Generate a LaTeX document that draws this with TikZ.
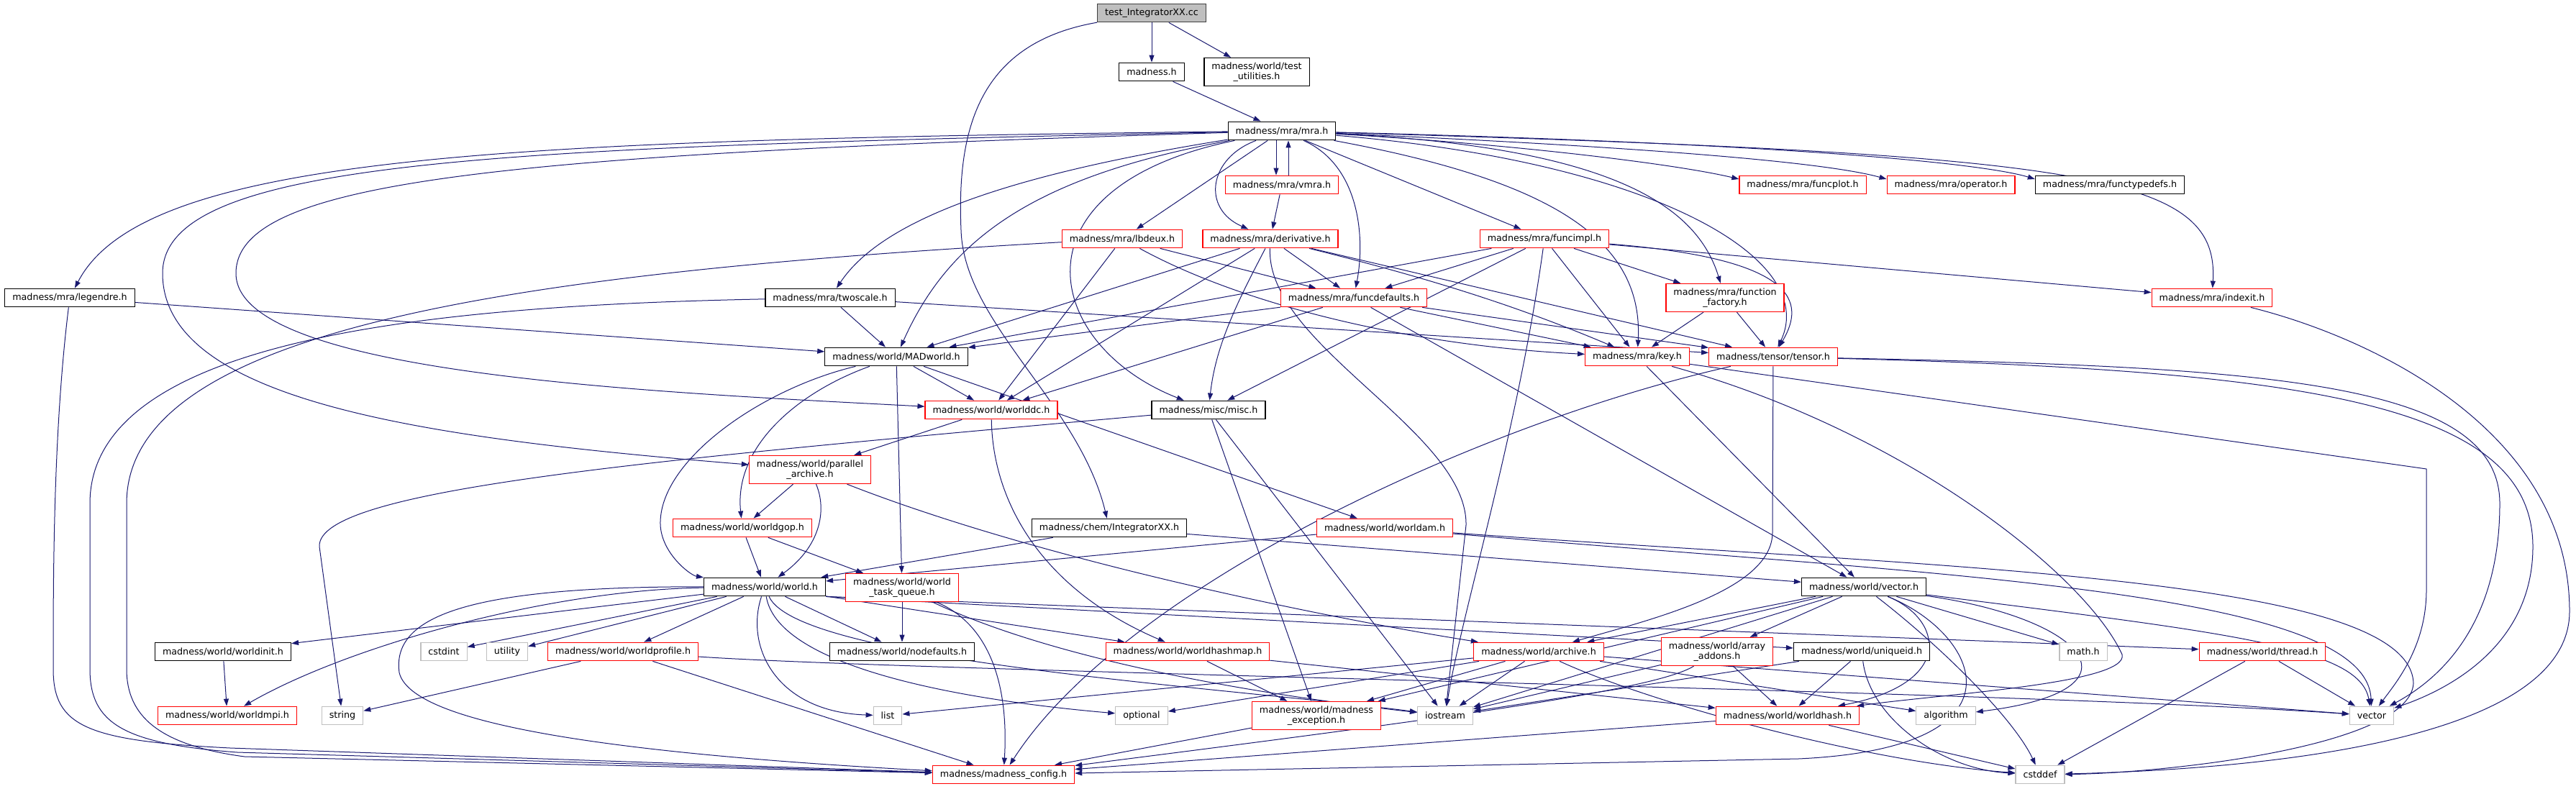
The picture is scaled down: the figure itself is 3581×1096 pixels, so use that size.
\documentclass[tikz,border=0pt]{standalone}
\usepackage{fontspec}
\setmainfont{DejaVu Sans}
\usepackage{tikz}
\usetikzlibrary{arrows.meta,positioning,backgrounds}
\definecolor{edgeblue}{HTML}{191970}
\definecolor{sysgray}{HTML}{BFBFBF}

\begin{document}
\begin{tikzpicture}[x=1pt,y=-1pt,
  every node/.style={font=\fontsize{12.7}{14.5}\selectfont, draw, line width=1.2pt, fill=white, align=center,
    inner xsep=10.5pt, inner ysep=6pt, minimum height=25.6pt},
  hdr/.style={draw=black},
  trunc/.style={draw=red},
  sys/.style={draw=sysgray},
  root/.style={draw=black!75, fill=sysgray},
  dep/.style={draw=edgeblue, line width=1pt, -{Triangle[length=10pt,width=7pt]}}]
  \useasboundingbox (0,0) rectangle (3581,1096);
  % top rows
  \node[root] (test) at (1601,18) {test\_IntegratorXX.cc};
  \node[hdr] (madness) at (1601,100) {madness.h};
  \node[hdr] (testutil) at (1747,100) {madness/world/test\\\_utilities.h};
  \node[hdr] (mra) at (1782,182) {madness/mra/mra.h};
  \node[trunc] (vmra) at (1782,257) {madness/mra/vmra.h};
  \node[trunc] (funcplot) at (2506,257) {madness/mra/funcplot.h};
  \node[trunc] (operator) at (2712,257) {madness/mra/operator.h};
  \node[hdr] (functypedefs) at (2933,257) {madness/mra/functypedefs.h};
  \node[trunc] (lbdeux) at (1560,332) {madness/mra/lbdeux.h};
  \node[trunc] (derivative) at (1766,332) {madness/mra/derivative.h};
  \node[trunc] (funcimpl) at (2147,332) {madness/mra/funcimpl.h};
  \node[hdr] (legendre) at (97,414) {madness/mra/legendre.h};
  \node[hdr] (twoscale) at (1154,414) {madness/mra/twoscale.h};
  \node[trunc] (funcdefaults) at (1882,414) {madness/mra/funcdefaults.h};
  \node[trunc] (factory) at (2398,414) {madness/mra/function\\\_factory.h};
  \node[trunc] (indexit) at (3075,414) {madness/mra/indexit.h};
  \node[hdr] (MADworld) at (1246,496) {madness/world/MADworld.h};
  \node[trunc] (key) at (2276,496) {madness/mra/key.h};
  \node[trunc] (tensor) at (2465,496) {madness/tensor/tensor.h};
  \node[trunc] (worlddc) at (1378,570) {madness/world/worlddc.h};
  \node[hdr] (misc) at (1680,570) {madness/misc/misc.h};
  \node[trunc] (parallel) at (1126,653) {madness/world/parallel\\\_archive.h};
  \node[trunc] (worldgop) at (1032,734) {madness/world/worldgop.h};
  \node[hdr] (integratorh) at (1542,734) {madness/chem/IntegratorXX.h};
  \node[trunc] (worldam) at (1925,734) {madness/world/worldam.h};
  \node[hdr] (world) at (1063,816) {madness/world/world.h};
  \node[trunc] (taskqueue) at (1254,817) {madness/world/world\\\_task\_queue.h};
  \node[hdr] (vectorh) at (2591,816) {madness/world/vector.h};
  % lower rows
  \node[hdr] (worldinit) at (310,906) {madness/world/worldinit.h};
  \node[sys] (cstdint) at (617,906) {cstdint};
  \node[sys] (utility) at (705,906) {utility};
  \node[trunc] (worldprofile) at (866,906) {madness/world/worldprofile.h};
  \node[hdr] (nodefaults) at (1254,906) {madness/world/nodefaults.h};
  \node[trunc] (worldhashmap) at (1651,906) {madness/world/worldhashmap.h};
  \node[trunc] (archive) at (2139,906) {madness/world/archive.h};
  \node[trunc] (arrayaddons) at (2387,906) {madness/world/array\\\_addons.h};
  \node[hdr] (uniqueid) at (2588,906) {madness/world/uniqueid.h};
  \node[sys] (mathh) at (2896,906) {math.h};
  \node[trunc] (thread) at (3145,906) {madness/world/thread.h};
  \node[trunc] (worldmpi) at (316,995) {madness/world/worldmpi.h};
  \node[sys] (string) at (476,995) {string};
  \node[sys] (list) at (1234,995) {list};
  \node[sys] (optional) at (1587,995) {optional};
  \node[trunc] (exception) at (1830,995) {madness/world/madness\\\_exception.h};
  \node[sys] (iostream) at (2009,995) {iostream};
  \node[trunc] (worldhash) at (2485,995) {madness/world/worldhash.h};
  \node[sys] (algorithm) at (2705,995) {algorithm};
  \node[sys] (vector) at (3297,995) {vector};
  \node[trunc] (config) at (1395,1077) {madness/madness\_config.h};
  \node[sys] (cstddef) at (2836,1077) {cstddef};

  \begin{scope}[on background layer]
  % test file and madness.h
  \draw[dep] (test) -- (madness);
  \draw[dep] (test) -- (testutil);
  \draw[dep] (test) .. controls (1360,60) and (1330,180) .. (1336,320) .. controls (1340,450) and (1500,560) .. (integratorh);
  \draw[dep] (madness) -- (mra);
  % mra.h
  \draw[dep] (mra) .. controls (700,195) and (200,215) .. (legendre);
  \draw[dep] (mra) .. controls (700,205) and (226,220) .. (226,380) .. controls (226,560) and (600,610) .. (parallel);
  \draw[dep] (mra) .. controls (700,215) and (328,250) .. (328,380) .. controls (328,520) and (900,545) .. (worlddc);
  \draw[dep] (mra) .. controls (1420,240) and (1230,300) .. (twoscale);
  \draw[dep] (mra) .. controls (1440,245) and (1320,330) .. (MADworld);
  \draw[dep] (mra) .. controls (1400,260) and (1450,480) .. (misc);
  \draw[dep] ([xshift=-8pt]mra.south) -- ([xshift=-8pt]vmra.north);
  \draw[dep] ([xshift=9pt]vmra.north) -- ([xshift=9pt]mra.south);
  \draw[dep] (mra) -- (lbdeux);
  \draw[dep] (mra) .. controls (1680,220) and (1670,290) .. (derivative);
  \draw[dep] (mra) .. controls (1890,230) and (1898,330) .. (funcdefaults);
  \draw[dep] (mra) -- (funcimpl);
  \draw[dep] (mra) .. controls (2150,250) and (2285,330) .. (key);
  \draw[dep] (mra) .. controls (2250,205) and (2360,290) .. (factory);
  \draw[dep] (mra) .. controls (2300,225) and (2530,360) .. (tensor);
  \draw[dep] (mra) .. controls (2100,200) and (2330,228) .. ([yshift=8pt]funcplot.west);
  \draw[dep] (mra) .. controls (2300,205) and (2540,226) .. ([yshift=8pt]operator.west);
  \draw[dep] (mra) .. controls (2500,200) and (2760,228) .. ([yshift=8pt]functypedefs.west);
  \draw[dep] (mra) .. controls (2900,215) and (3085,240) .. (indexit);
  \draw[dep] (vmra) -- (derivative);
  % legendre, twoscale, lbdeux
  \draw[dep] (legendre) -- (MADworld);
  \draw[dep] (legendre) .. controls (74,600) and (74,800) .. (74,930) .. controls (74,1010) and (120,1030) .. (320,1040) -- (config);
  \draw[dep] (twoscale) .. controls (600,425) and (125,470) .. (125,700) -- (125,930) .. controls (125,1005) and (170,1034) .. (330,1046) -- (config);
  \draw[dep] (lbdeux) .. controls (700,380) and (176,460) .. (176,700) -- (176,930) .. controls (176,995) and (220,1036) .. (340,1052) -- (config);
  \draw[dep] (twoscale) -- (MADworld);
  \draw[dep] (twoscale) -- (tensor);
  \draw[dep] (lbdeux) -- (worlddc);
  \draw[dep] (lbdeux) -- (funcdefaults);
  \draw[dep] (lbdeux) .. controls (1720,420) and (1950,480) .. (key);
  % derivative.h
  \draw[dep] (derivative) -- (MADworld);
  \draw[dep] (derivative) -- (worlddc);
  \draw[dep] (derivative) .. controls (1720,420) and (1690,480) .. (misc);
  \draw[dep] (derivative) -- (funcdefaults);
  \draw[dep] (derivative) .. controls (2000,390) and (2120,430) .. (key);
  \draw[dep] (derivative) -- (tensor);
  \draw[dep] (derivative) .. controls (1760,480) and (2040,600) .. (2038,730) -- (iostream);
  % funcimpl.h
  \draw[dep] (funcimpl) -- (MADworld);
  \draw[dep] (funcimpl) -- (funcdefaults);
  \draw[dep] (funcimpl) -- (misc);
  \draw[dep] (funcimpl) .. controls (2110,600) and (2030,860) .. (iostream);
  \draw[dep] (funcimpl) -- (key);
  \draw[dep] (funcimpl) -- (factory);
  \draw[dep] (funcimpl) .. controls (2500,360) and (2510,420) .. (tensor);
  \draw[dep] (funcimpl) -- (indexit);
  % funcdefaults.h, function_factory.h
  \draw[dep] (funcdefaults) -- (MADworld);
  \draw[dep] (funcdefaults) -- (worlddc);
  \draw[dep] (funcdefaults) -- (key);
  \draw[dep] (funcdefaults) -- (tensor);
  \draw[dep] (funcdefaults) -- (vectorh);
  \draw[dep] (factory) -- (key);
  \draw[dep] (factory) -- (tensor);
  % key.h, tensor.h, indexit.h
  \draw[dep] (key) -- (vectorh);
  \draw[dep] (key) -- (3373,652) -- (3373,820) .. controls (3373,900) and (3330,950) .. (vector);
  \draw[dep] (key) .. controls (2650,600) and (2900,800) .. (2950,910) .. controls (2960,950) and (2700,965) .. (worldhash);
  \draw[dep] (tensor) -- (2464,740) .. controls (2464,820) and (2300,860) .. (archive);
  \draw[dep] (tensor) .. controls (2050,590) and (1560,820) .. (config);
  \draw[dep] (tensor) .. controls (3150,510) and (3475,530) .. (3475,700) .. controls (3475,880) and (3380,950) .. (vector);
  \draw[dep] (tensor) .. controls (3200,515) and (3521,560) .. (3521,760) .. controls (3521,900) and (3400,960) .. (vector);
  \draw[dep] (indexit) .. controls (3300,470) and (3572,600) .. (3572,850) .. controls (3572,1040) and (3100,1070) .. (cstddef);
  % MADworld.h, worlddc.h, misc.h
  \draw[dep] (MADworld) -- (worlddc);
  \draw[dep] (MADworld) -- (taskqueue);
  \draw[dep] (MADworld) -- (worldam);
  \draw[dep] (MADworld) .. controls (1110,545) and (1020,620) .. (worldgop);
  \draw[dep] (MADworld) .. controls (1060,540) and (915,640) .. (918,730) .. controls (920,770) and (960,800) .. (world);
  \draw[dep] (worlddc) -- (parallel);
  \draw[dep] (worlddc) .. controls (1380,700) and (1450,820) .. (worldhashmap);
  \draw[dep] (misc) .. controls (900,640) and (440,680) .. (444,760) -- (string);
  \draw[dep] (misc) -- (exception);
  \draw[dep] (misc) -- (iostream);
  % parallel_archive.h, worldgop.h
  \draw[dep] (parallel) -- (worldgop);
  \draw[dep] (parallel) .. controls (1150,710) and (1140,760) .. (world);
  \draw[dep] (parallel) .. controls (1450,780) and (1850,860) .. (archive);
  \draw[dep] (worldgop) -- (world);
  \draw[dep] (worldgop) -- (taskqueue);
  % IntegratorXX.h, worldam.h, world_task_queue.h
  \draw[dep] (integratorh) -- (world);
  \draw[dep] (integratorh) -- (vectorh);
  \draw[dep] (worldam) -- (world);
  \draw[dep] (worldam) .. controls (2700,800) and (3290,820) .. (vector);
  \draw[dep] (worldam) .. controls (2700,790) and (3350,800) .. (3355,950) .. controls (3350,1040) and (3000,1075) .. (cstddef);
  \draw[dep] (taskqueue) -- (nodefaults);
  \draw[dep] (taskqueue) .. controls (1380,870) and (1402,960) .. (config);
  \draw[dep] (taskqueue) .. controls (1450,910) and (1700,960) .. (iostream);
  % world.h
  \draw[dep] (world) -- (worldinit);
  \draw[dep] (world) -- (cstdint);
  \draw[dep] (world) -- (utility);
  \draw[dep] (world) -- (worldprofile);
  \draw[dep] (world) .. controls (760,820) and (480,900) .. (worldmpi);
  \draw[dep] (world) .. controls (640,815) and (545,860) .. (555,935) .. controls (570,1000) and (800,1045) .. (config);
  \draw[dep] (world) .. controls (1035,900) and (1080,990) .. (list);
  \draw[dep] (world) .. controls (1080,920) and (1300,970) .. (optional);
  \draw[dep] (world) .. controls (1110,920) and (1700,955) .. (iostream);
  \draw[dep] (world) -- (nodefaults);
  \draw[dep] (world) -- (worldhashmap);
  \draw[dep] (world.south east) -- (uniqueid);
  \draw[dep] (world.south east) -- (thread);
  % worldprofile.h, worldinit.h, worldhashmap.h
  \draw[dep] (worldprofile) -- (string);
  \draw[dep] (worldprofile) -- (config);
  \draw[dep] (worldprofile) .. controls (1300,935) and (2800,960) .. (vector);
  \draw[dep] (worldinit) -- (worldmpi);
  \draw[dep] (worldhashmap) -- (exception);
  \draw[dep] (worldhashmap) -- (worldhash);
  % archive.h, array_addons.h, uniqueid.h
  \draw[dep] (archive) -- (exception);
  \draw[dep] (archive) -- (iostream);
  \draw[dep] (archive) -- (list);
  \draw[dep] (archive) -- (optional);
  \draw[dep] (archive) -- (algorithm);
  \draw[dep] (archive) -- (vector);
  \draw[dep] (archive) .. controls (2300,980) and (2600,1060) .. (cstddef);
  \draw[dep] (arrayaddons) -- (worldhash);
  \draw[dep] (arrayaddons) -- (iostream);
  \draw[dep] (arrayaddons) .. controls (2300,960) and (2000,1000) .. (config);
  \draw[dep] (uniqueid) -- (worldhash);
  \draw[dep] (uniqueid) -- (iostream);
  \draw[dep] (uniqueid) .. controls (2600,1000) and (2700,1070) .. (cstddef);
  % vector.h
  \draw[dep] (vectorh) -- (archive);
  \draw[dep] (vectorh) -- (arrayaddons);
  \draw[dep] (vectorh) -- (mathh);
  \draw[dep] (vectorh) -- (exception);
  \draw[dep] (vectorh) -- (iostream);
  \draw[dep] (vectorh) .. controls (2700,860) and (2720,950) .. (worldhash);
  \draw[dep] (vectorh) .. controls (2900,860) and (2990,960) .. (algorithm);
  \draw[dep] (vectorh) .. controls (2700,900) and (2800,1000) .. (cstddef);
  \draw[dep] (vectorh) .. controls (3100,880) and (3280,900) .. (vector);
  \draw[dep] (vectorh) .. controls (2750,880) and (2830,1040) .. (2500,1055) -- (config);
  % worldhash.h, thread.h, madness_exception.h
  \draw[dep] (worldhash) -- (config);
  \draw[dep] (worldhash) -- (cstddef);
  \draw[dep] (thread) -- (vector);
  \draw[dep] (thread) -- (cstddef);
  \draw[dep] (exception) -- (config);
  \end{scope}
\end{tikzpicture}
\end{document}
